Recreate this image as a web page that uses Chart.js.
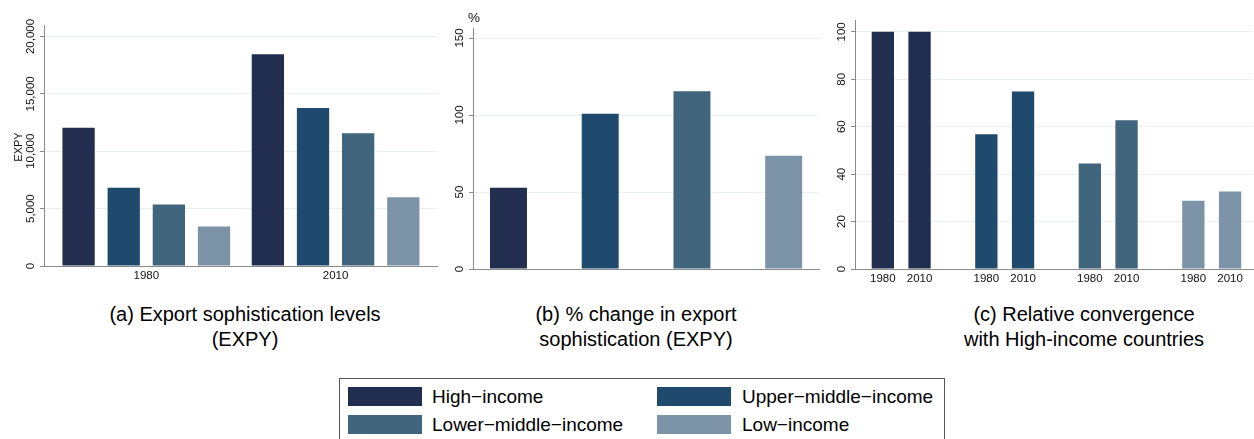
<!DOCTYPE html>
<html>
<head>
<meta charset="utf-8">
<script src="https://cdn.jsdelivr.net/npm/chart.js@4.4.1/dist/chart.umd.min.js"></script>
<style>
  html, body { margin: 0; padding: 0; background: #fff; }
  body { width: 1254px; height: 439px; overflow: hidden; position: relative;
         font-family: "Liberation Sans", Arial, Helvetica, sans-serif; color: #000; }
  canvas { position: absolute; top: 0; }
  .cap { position: absolute; text-align: center; font-size: 20px; line-height: 25px; white-space: nowrap; }
  .legend { position: absolute; left: 339px; top: 378px; width: 606px; height: 80px;
            border: 1px solid #555; box-sizing: border-box; }
  .item { position: absolute; font-size: 19px; line-height: 20px; white-space: nowrap; }
  .sw { position: absolute; width: 74px; height: 19px; }
</style>
</head>
<body>
<canvas id="cA" width="445" height="290" style="left:0px"></canvas>
<canvas id="cB" width="380" height="290" style="left:450px"></canvas>
<canvas id="cC" width="424" height="290" style="left:830px"></canvas>

<div class="cap" id="capA" style="left:95px; width:300px; top:302px">(a) Export sophistication levels<br>(EXPY)</div>
<div class="cap" id="capB" style="left:486px; width:300px; top:302px">(b) % change in export<br>sophistication (EXPY)</div>
<div class="cap" id="capC" style="left:934px; width:300px; top:302px">(c) Relative convergence<br>with High-income countries</div>

<div class="legend" id="legend"></div>

<script>
// ---------- data ----------
const incomeGroups = ['High\u2212income', 'Upper\u2212middle\u2212income', 'Lower\u2212middle\u2212income', 'Low\u2212income'];
const years = ['1980', '2010'];
const groupColors = ['#222e50', '#1f4a6e', '#41657c', '#7d93a7'];

// (a) EXPY levels, per income group: [1980, 2010]
const expyHigh  = [12050, 18460];
const expyUpper = [6810, 13770];
const expyLower = [5360, 11560];
const expyLow   = [3440, 6000];

// (b) % change in EXPY 1980-2010, per income group
const pctChange = [52.7, 100.8, 115.5, 73.5];

// (c) EXPY relative to high-income (=100), per income group
const conv1980 = [100, 56.8, 44.5, 28.8];
const conv2010 = [100, 74.9, 62.7, 32.7];

// y-axis tick values
const yTicksA = [0, 5000, 10000, 15000, 20000];
const yTicksB = [0, 50, 100, 150];
const yTicksC = [0, 20, 40, 60, 80, 100];
const yMaxA = 21000, yMaxB = 156.5, yMaxC = 105;

// ---------- styling ----------
const FONT = '"Liberation Sans", Arial, Helvetica, sans-serif';
const AXIS = '#8a8a8a';
const GRID = '#e8eff1';
const TXT = '#111';

const axisText = {
  id: 'axisText',
  afterDraw(chart, args, o) {
    const ctx = chart.ctx, xs = chart.scales.x, ys = chart.scales.y;
    ctx.save();
    ctx.fillStyle = TXT;
    ctx.font = '11.5px ' + FONT;
    ctx.textAlign = 'center';
    ctx.textBaseline = 'middle';
    // y tick labels, rotated
    ys.ticks.forEach(t => {
      const py = ys.getPixelForValue(t.value);
      ctx.save();
      ctx.translate(ys.right - 13, py);
      ctx.rotate(-Math.PI / 2);
      ctx.fillText(t.value.toLocaleString('en-US'), 0, 0);
      ctx.restore();
    });
    // x labels
    if (o.xMode === 'ticks') {
      xs.ticks.forEach((t, i) => {
        ctx.fillText(o.xLabels[i], xs.getPixelForValue(t.value), xs.top + 9.5);
      });
    } else if (o.xMode === 'bars') {
      chart.data.datasets.forEach((ds, d) => {
        chart.getDatasetMeta(d).data.forEach(el => {
          ctx.fillText(o.xLabels[d], el.x, xs.top + 9.5);
        });
      });
    }
    // y title rotated
    if (o.yTitle) {
      ctx.save();
      ctx.font = '11px ' + FONT;
      ctx.translate(o.yTitleX, (chart.chartArea.top + chart.chartArea.bottom) / 2 + 1.5);
      ctx.rotate(-Math.PI / 2);
      ctx.fillText(o.yTitle, 0, 0);
      ctx.restore();
    }
    // top title (horizontal)
    if (o.topTitle) {
      ctx.font = '13.5px ' + FONT;
      ctx.fillText(o.topTitle, ys.right + 1, 18.5);
    }
    ctx.restore();
  }
};

function yScale(tickVals, max, width) {
  return {
    min: 0, max: max,
    ticks: {display: false},
    afterBuildTicks: s => { s.ticks = tickVals.map(v => ({value: v})); },
    grid: {color: GRID, tickColor: AXIS, tickLength: 4, drawTicks: true, lineWidth: 1},
    border: {display: true, color: AXIS, width: 1},
    afterFit: s => { s.width = width; }
  };
}
function xScale(n, min, max, height) {
  return {
    type: 'linear', min: min, max: max, offset: false,
    grid: {display: false, drawTicks: false},
    border: {display: true, color: AXIS, width: 1},
    ticks: {display: false},
    afterBuildTicks: s => { s.ticks = Array.from({length: n}, (_, i) => ({value: i + 1})); },
    afterFit: s => { s.height = height; }
  };
}
const common = {
  responsive: false, animation: false, devicePixelRatio: 1,
  events: []
};

// (a)
const expyByGroup = [expyHigh, expyUpper, expyLower, expyLow];
new Chart(document.getElementById('cA'), {
  type: 'bar',
  data: {
    datasets: incomeGroups.map((g, i) => ({
      label: g,
      data: years.map((yr, j) => ({x: j + 1, y: expyByGroup[i][j]})),
      backgroundColor: groupColors[i],
      borderWidth: 0,
      categoryPercentage: 0.954, barPercentage: 0.715
    }))
  },
  options: Object.assign({}, common, {
    layout: {padding: {left: 0, top: 25, right: 8, bottom: 0}},
    plugins: {legend: {display: false}, tooltip: {enabled: false},
      axisText: {xMode: 'ticks', xLabels: years, yTitle: 'EXPY', yTitleX: 18.5}},
    scales: {x: xScale(years.length, 0.4596, 2.5357, 24), y: yScale(yTicksA, yMaxA, 44)}
  }),
  plugins: [axisText]
});

// (b)
new Chart(document.getElementById('cB'), {
  type: 'bar',
  data: {
    datasets: [{
      label: '% change',
      data: incomeGroups.map((g, i) => ({x: i + 1, y: pctChange[i]})),
      backgroundColor: groupColors,
      borderWidth: 0,
      categoryPercentage: 1, barPercentage: 0.403
    }]
  },
  options: Object.assign({}, common, {
    layout: {padding: {left: 0, top: 28, right: 11, bottom: 0}},
    plugins: {legend: {display: false}, tooltip: {enabled: false},
      axisText: {xMode: 'none', topTitle: '%'}},
    scales: {x: xScale(incomeGroups.length, 0.6133, 4.385, 21), y: yScale(yTicksB, yMaxB, 23)}
  }),
  plugins: [axisText]
});

// (c)
const convByYear = [conv1980, conv2010];
new Chart(document.getElementById('cC'), {
  type: 'bar',
  data: {
    datasets: years.map((yr, d) => ({
      label: yr,
      data: incomeGroups.map((g, i) => ({x: i + 1, y: convByYear[d][i]})),
      backgroundColor: groupColors,
      borderWidth: 0,
      categoryPercentage: 0.709, barPercentage: 0.608
    }))
  },
  options: Object.assign({}, common, {
    layout: {padding: {left: 0, top: 20, right: 1, bottom: 0}},
    plugins: {legend: {display: false}, tooltip: {enabled: false},
      axisText: {xMode: 'bars', xLabels: years}},
    scales: {x: xScale(incomeGroups.length, 0.5536, 4.399, 21), y: yScale(yTicksC, yMaxC, 25)}
  }),
  plugins: [axisText]
});

// legend (HTML)
const legend = document.getElementById('legend');
const legendPos = [
  {sx: 8, tx: 92, sy: 8, ty: 8},
  {sx: 317, tx: 402, sy: 8, ty: 8},
  {sx: 8, tx: 92, sy: 36, ty: 36},
  {sx: 317, tx: 402, sy: 36, ty: 36}
];
incomeGroups.forEach((g, i) => {
  const p = legendPos[i];
  const sw = document.createElement('div');
  sw.className = 'sw';
  sw.style.left = p.sx + 'px'; sw.style.top = p.sy + 'px';
  sw.style.background = groupColors[i];
  legend.appendChild(sw);
  const t = document.createElement('div');
  t.className = 'item';
  t.style.left = p.tx + 'px'; t.style.top = p.ty + 'px';
  t.textContent = g;
  legend.appendChild(t);
});
</script>
</body>
</html>
